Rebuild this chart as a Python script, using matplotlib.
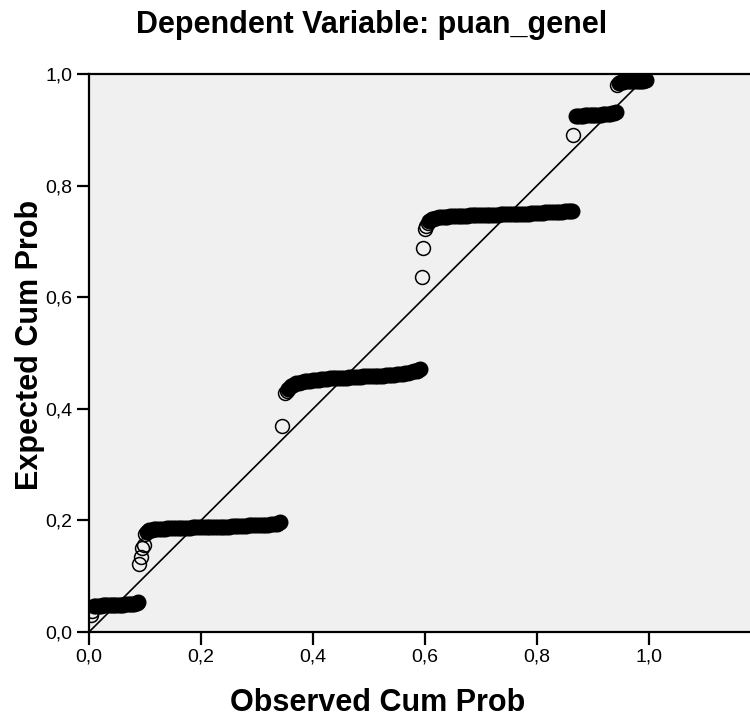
import numpy as np
import matplotlib.pyplot as plt

# P-P plot values: observed cum prob (x) vs expected cum prob (y)
# isolated / transition points (drawn as single open circles)
obs_single = [0.003, 0.005, 0.089, 0.092, 0.095, 0.098, 0.100, 0.345, 0.350, 0.353,
              0.594, 0.596, 0.600, 0.602, 0.605, 0.864, 0.943]
exp_single = [0.030, 0.038, 0.122, 0.134, 0.150, 0.156, 0.176, 0.370, 0.428, 0.432,
              0.636, 0.688, 0.722, 0.728, 0.733, 0.890, 0.980]

# dense runs of cases that merge into solid bands
obs_1 = [0.009, 0.013, 0.017, 0.021, 0.025, 0.029, 0.033, 0.037, 0.041, 0.045, 0.049,
         0.053, 0.057, 0.061, 0.065, 0.069, 0.073, 0.077, 0.081, 0.085, 0.088]
exp_1 = [0.046, 0.047, 0.047, 0.047, 0.048, 0.048, 0.048, 0.048, 0.048, 0.049, 0.049,
         0.049, 0.049, 0.049, 0.050, 0.050, 0.050, 0.051, 0.051, 0.052, 0.053]

obs_2 = [0.104, 0.108, 0.112, 0.116, 0.120, 0.125, 0.130, 0.135, 0.140, 0.145,
         0.150, 0.155, 0.160, 0.165, 0.170, 0.175, 0.180, 0.185, 0.190, 0.195, 0.200,
         0.205, 0.210, 0.215, 0.220, 0.225, 0.230, 0.235, 0.240, 0.245, 0.250, 0.255,
         0.260, 0.265, 0.270, 0.275, 0.280, 0.285, 0.290, 0.295, 0.300, 0.305, 0.310,
         0.315, 0.320, 0.325, 0.330, 0.335, 0.338, 0.341]
exp_2 = [0.180, 0.182, 0.183, 0.184, 0.184, 0.185, 0.185, 0.185, 0.186, 0.186,
         0.186, 0.186, 0.187, 0.187, 0.187, 0.187, 0.187, 0.188, 0.188, 0.188, 0.188,
         0.188, 0.188, 0.188, 0.189, 0.189, 0.189, 0.189, 0.189, 0.189, 0.189, 0.190,
         0.190, 0.190, 0.190, 0.190, 0.190, 0.191, 0.191, 0.191, 0.191, 0.191, 0.192,
         0.192, 0.192, 0.193, 0.193, 0.194, 0.195, 0.197]

obs_3 = [0.356, 0.360, 0.365, 0.370, 0.375, 0.380, 0.385, 0.390, 0.395,
         0.400, 0.405, 0.410, 0.415, 0.420, 0.425, 0.430, 0.435, 0.440, 0.445, 0.450,
         0.455, 0.460, 0.465, 0.470, 0.475, 0.480, 0.485, 0.490, 0.495, 0.500, 0.505,
         0.510, 0.515, 0.520, 0.525, 0.530, 0.535, 0.540, 0.545, 0.550, 0.555, 0.560,
         0.565, 0.570, 0.575, 0.580, 0.585, 0.588, 0.591]
exp_3 = [0.436, 0.440, 0.443, 0.446, 0.447, 0.448, 0.449, 0.450, 0.450,
         0.451, 0.452, 0.452, 0.453, 0.454, 0.454, 0.455, 0.455, 0.455, 0.456, 0.456,
         0.456, 0.456, 0.457, 0.457, 0.457, 0.457, 0.457, 0.458, 0.458, 0.458, 0.458,
         0.459, 0.459, 0.459, 0.459, 0.460, 0.460, 0.461, 0.461, 0.462, 0.462, 0.463,
         0.464, 0.465, 0.466, 0.467, 0.468, 0.470, 0.472]

obs_4 = [0.608, 0.612, 0.615, 0.620, 0.625, 0.630, 0.635, 0.640, 0.645, 0.650, 0.655,
         0.660, 0.665, 0.670, 0.675, 0.680, 0.685, 0.690, 0.695, 0.700, 0.705, 0.710,
         0.715, 0.720, 0.725, 0.730, 0.735, 0.740, 0.745, 0.750, 0.755, 0.760, 0.765,
         0.770, 0.775, 0.780, 0.785, 0.790, 0.795, 0.800, 0.805, 0.810, 0.815, 0.820,
         0.825, 0.830, 0.835, 0.840, 0.845, 0.850, 0.855, 0.859, 0.862]
exp_4 = [0.737, 0.740, 0.741, 0.742, 0.743, 0.743, 0.744, 0.744, 0.745, 0.745, 0.745,
         0.746, 0.746, 0.746, 0.746, 0.747, 0.747, 0.747, 0.747, 0.747, 0.748, 0.748,
         0.748, 0.748, 0.748, 0.748, 0.749, 0.749, 0.749, 0.749, 0.749, 0.749, 0.750,
         0.750, 0.750, 0.750, 0.750, 0.751, 0.751, 0.751, 0.751, 0.751, 0.752, 0.752,
         0.752, 0.752, 0.753, 0.753, 0.753, 0.754, 0.754, 0.755, 0.755]

obs_5 = [0.870, 0.874, 0.878, 0.882, 0.886, 0.890, 0.894, 0.898, 0.902, 0.906, 0.910,
         0.914, 0.918, 0.922, 0.926, 0.930, 0.934, 0.938, 0.941]
exp_5 = [0.924, 0.925, 0.925, 0.925, 0.926, 0.926, 0.926, 0.926, 0.927, 0.927, 0.927,
         0.927, 0.928, 0.928, 0.928, 0.929, 0.930, 0.931, 0.932]

obs_6 = [0.946, 0.950, 0.954, 0.958, 0.962, 0.966, 0.970, 0.974, 0.978, 0.982,
         0.986, 0.990, 0.993, 0.995]
exp_6 = [0.984, 0.986, 0.986, 0.987, 0.987, 0.987, 0.987, 0.988, 0.988, 0.988,
         0.988, 0.988, 0.989, 0.989]

x_ticks = [0.0, 0.2, 0.4, 0.6, 0.8, 1.0]
y_ticks = [0.0, 0.2, 0.4, 0.6, 0.8, 1.0]

plt.rcParams['font.family'] = ['Liberation Sans Narrow', 'Liberation Sans', 'DejaVu Sans']
bold_font = ['Liberation Sans', 'DejaVu Sans']

fig = plt.figure(figsize=(7.5, 7.18), dpi=100)
ax = fig.add_axes([89 / 750, 86 / 718, 672 / 750, 558 / 718])
ax.set_facecolor('#f0f0f0')

ax.plot([0, 1], [0, 1], color='black', lw=1.2, zorder=2)

runs = [(obs_1, exp_1), (obs_2, exp_2), (obs_3, exp_3), (obs_4, exp_4),
        (obs_5, exp_5), (obs_6, exp_6)]
for xs, ys in runs:
    ax.plot(xs, ys, ls='none', marker='o', ms=10.5, mfc='black', mec='black',
            mew=1.0, zorder=3)
ax.plot(obs_single, exp_single, ls='none', marker='o', ms=10, mfc='none',
        mec='black', mew=1.1, zorder=4)

ax.set_xlim(0, 1.2)
ax.set_ylim(0, 1.0)
ax.set_xticks(x_ticks)
ax.set_yticks(y_ticks)
ax.set_xticklabels([f'{v:.1f}'.replace('.', ',') for v in x_ticks])
ax.set_yticklabels([f'{v:.1f}'.replace('.', ',') for v in y_ticks])
ax.tick_params(direction='out', length=9, width=1.6, labelsize=14, pad=3)
ax.spines['right'].set_visible(False)
for s in ['left', 'bottom', 'top']:
    ax.spines[s].set_linewidth(1.6)

ax.set_xlabel('Observed Cum Prob', fontsize=22, fontweight='bold', family=bold_font)
ax.xaxis.set_label_coords((378 - 89) / 672, (632 - 703) / 558)
ax.set_ylabel('Expected Cum Prob', fontsize=22, fontweight='bold', family=bold_font)
ax.yaxis.set_label_coords((30 - 89) / 672, (632 - 345) / 558)
ax.xaxis.label.set_va('center')
ax.yaxis.label.set_va('center')
fig.text(372 / 750, 1 - 25 / 718, 'Dependent Variable: puan_genel', ha='center',
         va='center', fontsize=22, fontweight='bold', family=bold_font)

fig.savefig('out.png', dpi=100)
